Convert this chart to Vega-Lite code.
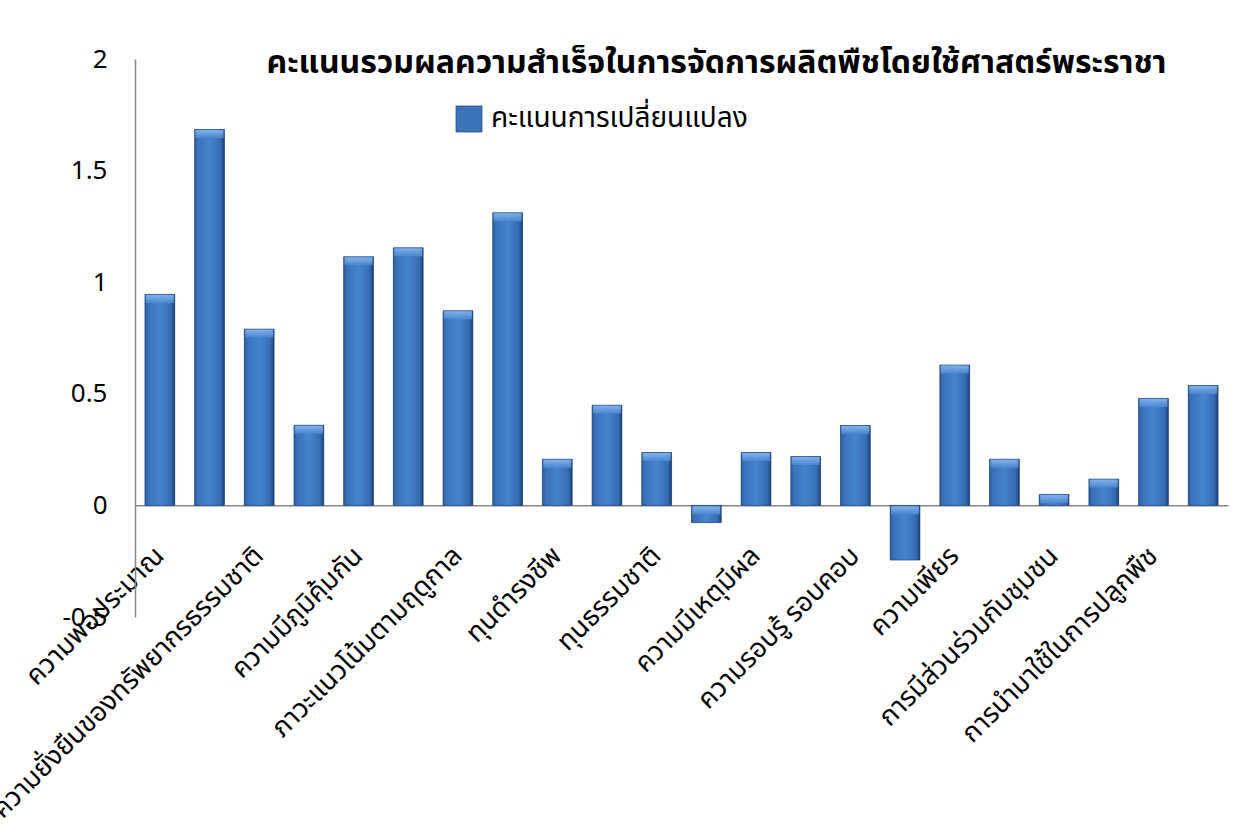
{
  "$schema": "https://vega.github.io/schema/vega-lite/v6.json",
  "autosize": {"type": "none"},
  "padding": {"left": 135, "top": 59, "right": 25, "bottom": 222},
  "width": 1093,
  "height": 558,
  "background": "white",
  "title": {
    "text": "คะแนนรวมผลความสำเร็จในการจัดการผลิตพืชโดยใช้ศาสตร์พระราชา",
    "fontSize": 32,
    "fontWeight": "bold",
    "font": "Noto Sans Thai, Noto Sans, sans-serif",
    "color": "#000000",
    "anchor": "middle",
    "frame": "group",
    "offset": 0,
    "dx": 35,
    "dy": 59,
    "baseline": "alphabetic"
  },
  "data": {
    "values": [
      {"n": 1, "item": "ความพอประมาณ", "score": 0.945},
      {"n": 2, "item": "_2", "score": 1.684},
      {"n": 3, "item": "ความยั่งยืนของทรัพยากรธรรมชาติ", "score": 0.79},
      {"n": 4, "item": "_4", "score": 0.359},
      {"n": 5, "item": "ความมีภูมิคุ้มกัน", "score": 1.114},
      {"n": 6, "item": "_6", "score": 1.154},
      {"n": 7, "item": "ภาวะแนวโน้มตามฤดูกาล", "score": 0.872},
      {"n": 8, "item": "_8", "score": 1.311},
      {"n": 9, "item": "ทุนดำรงชีพ", "score": 0.207},
      {"n": 10, "item": "_10", "score": 0.449},
      {"n": 11, "item": "ทุนธรรมชาติ", "score": 0.237},
      {"n": 12, "item": "_12", "score": -0.077},
      {"n": 13, "item": "ความมีเหตุมีผล", "score": 0.237},
      {"n": 14, "item": "_14", "score": 0.219},
      {"n": 15, "item": "ความรอบรู้ รอบคอบ", "score": 0.358},
      {"n": 16, "item": "_16", "score": -0.245},
      {"n": 17, "item": "ความเพียร", "score": 0.629},
      {"n": 18, "item": "_18", "score": 0.207},
      {"n": 19, "item": "การมีส่วนร่วมกับชุมชน", "score": 0.049},
      {"n": 20, "item": "_20", "score": 0.118},
      {"n": 21, "item": "การนำมาใช้ในการปลูกพืช", "score": 0.479},
      {"n": 22, "item": "_22", "score": 0.537}
    ]
  },
  "transform": [{"calculate": "'คะแนนการเปลี่ยนแปลง'", "as": "series"}],
  "encoding": {
    "x": {
      "field": "item",
      "type": "nominal",
      "sort": ["ความพอประมาณ", "_2", "ความยั่งยืนของทรัพยากรธรรมชาติ", "_4", "ความมีภูมิคุ้มกัน", "_6", "ภาวะแนวโน้มตามฤดูกาล", "_8", "ทุนดำรงชีพ", "_10", "ทุนธรรมชาติ", "_12", "ความมีเหตุมีผล", "_14", "ความรอบรู้ รอบคอบ", "_16", "ความเพียร", "_18", "การมีส่วนร่วมกับชุมชน", "_20", "การนำมาใช้ในการปลูกพืช", "_22"],
      "scale": {"paddingInner": 0.4, "paddingOuter": 0.2},
      "axis": {
        "title": null,
        "offset": -111.7,
        "domainColor": "#868686",
        "domainWidth": 1.5,
        "ticks": false,
        "labelAngle": -45,
        "labelAlign": "right",
        "labelBaseline": "middle",
        "labelPadding": 46,
        "labelFontSize": 27,
        "labelFont": "Noto Sans Thai, Noto Sans, sans-serif",
        "labelColor": "#000000",
        "labelLimit": 600,
        "labelOverlap": false,
        "labelExpr": "indexof(datum.label, '_') == 0 ? '' : datum.label"
      }
    },
    "y": {
      "field": "score",
      "type": "quantitative",
      "scale": {"domain": [-0.5, 2], "nice": false, "zero": false},
      "axis": {
        "title": null,
        "values": [-0.5, 0, 0.5, 1, 1.5, 2],
        "format": "~g",
        "grid": false,
        "ticks": false,
        "domainColor": "#868686",
        "domainWidth": 1.5,
        "labelPadding": 28,
        "labelFontSize": 26,
        "labelFont": "Noto Sans, sans-serif",
        "labelColor": "#000000",
        "labelExpr": "replace(datum.label, '−', '-')"
      }
    }
  },
  "layer": [
    {
      "mark": {"type": "bar"},
      "encoding": {
        "fill": {
          "field": "series",
          "type": "nominal",
          "scale": {"range": ["#3C74BA"]},
          "legend": {
            "title": null,
            "orient": "none",
            "legendX": 320,
            "legendY": 46,
            "symbolType": "square",
            "symbolSize": 680,
            "symbolStrokeWidth": 0.6,
            "symbolStrokeColor": "#1F3F6E",
            "labelFontSize": 28,
            "labelFont": "Noto Sans Thai, Noto Sans, sans-serif",
            "labelColor": "#000000",
            "labelOffset": 8,
            "labelLimit": 600
          }
        }
      }
    },
    {
      "mark": {
        "type": "bar",
        "stroke": "#1F3F6E",
        "strokeWidth": 0.6,
        "fill": {
          "gradient": "linear",
          "x1": 0, "x2": 1, "y1": 0, "y2": 0,
          "stops": [
            {"offset": 0, "color": "#2D5E9E"},
            {"offset": 0.12, "color": "#3A72BA"},
            {"offset": 0.5, "color": "#4585D0"},
            {"offset": 0.88, "color": "#356BB0"},
            {"offset": 1, "color": "#1C3F72"}
          ]
        }
      }
    },
    {
      "transform": [{"filter": "datum.score > 0.04"}],
      "mark": {
        "type": "tick",
        "size": 28,
        "thickness": 8,
        "yOffset": 4.5,
        "opacity": 0.85,
        "color": {
          "gradient": "linear",
          "x1": 0, "x2": 0, "y1": 0, "y2": 1,
          "stops": [
            {"offset": 0, "color": "#8EBBF0"},
            {"offset": 1, "color": "#4A89D3"}
          ]
        }
      }
    },
    {
      "transform": [{"filter": "datum.score < 0"}],
      "mark": {
        "type": "tick",
        "size": 28,
        "thickness": 8,
        "yOffset": 5,
        "opacity": 0.85,
        "color": {
          "gradient": "linear",
          "x1": 0, "x2": 0, "y1": 0, "y2": 1,
          "stops": [
            {"offset": 0, "color": "#8EBBF0"},
            {"offset": 1, "color": "#4A89D3"}
          ]
        }
      },
      "encoding": {"y": {"datum": 0}}
    }
  ],
  "config": {"view": {"stroke": null}}
}
